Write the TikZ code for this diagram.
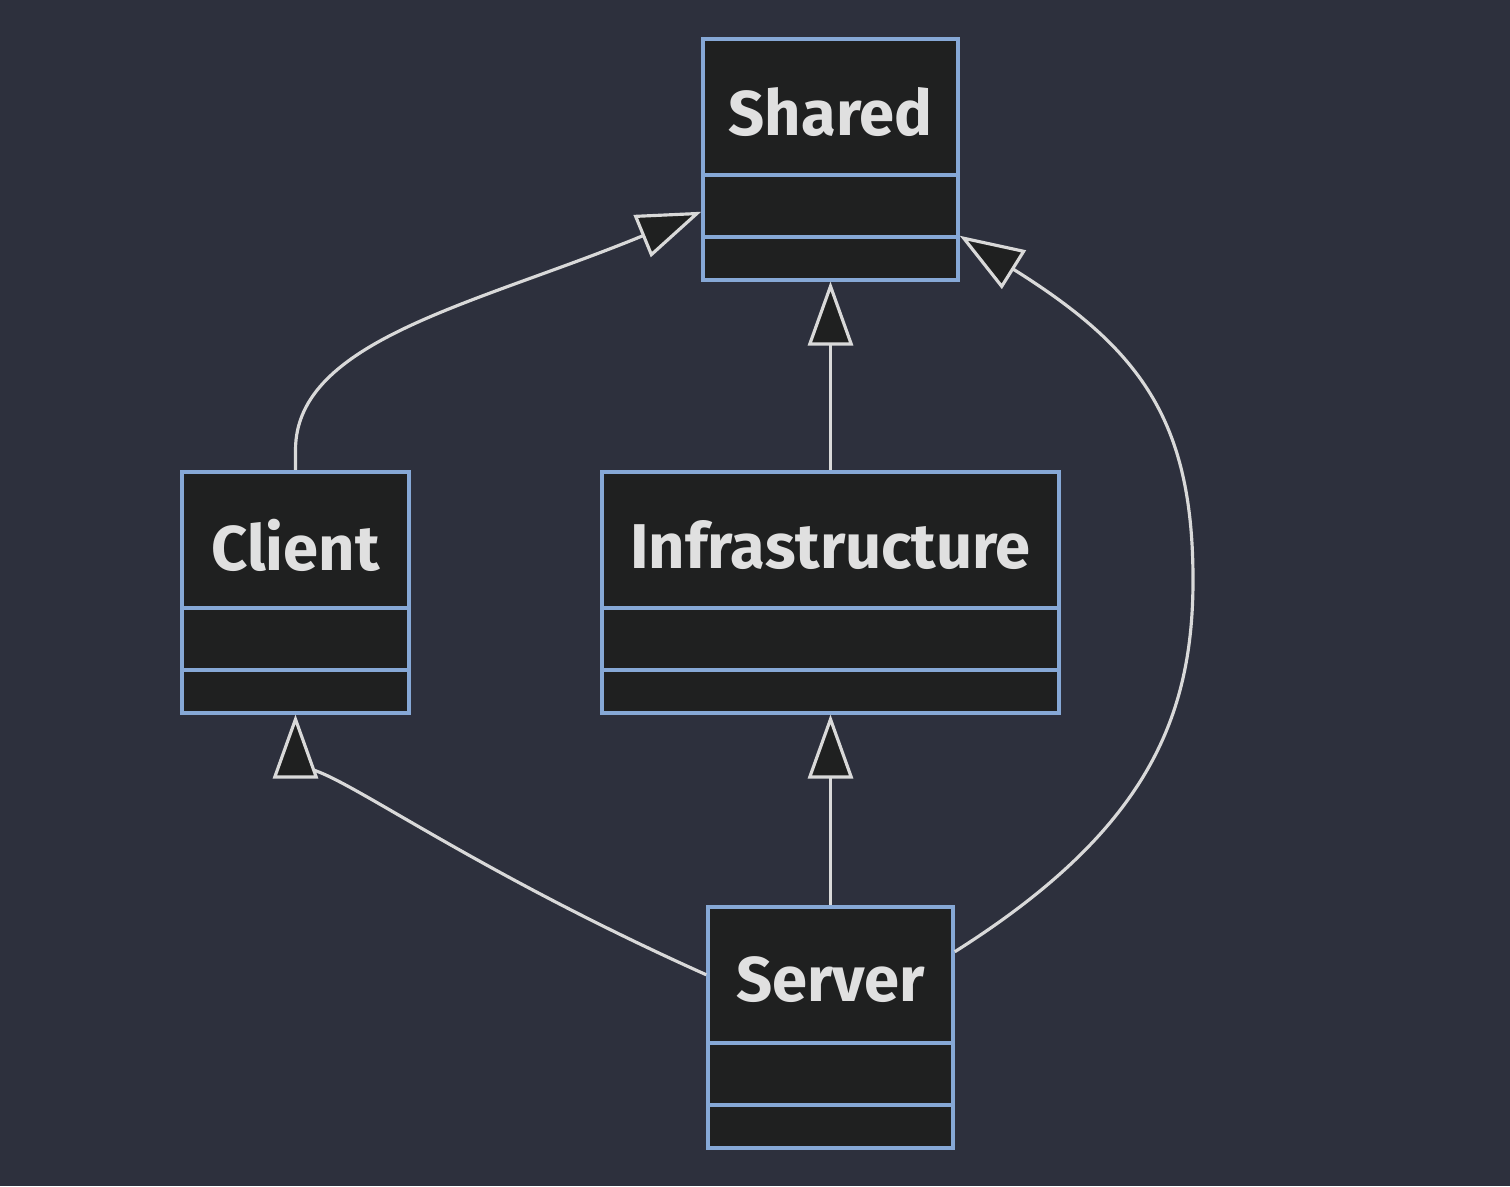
\documentclass[tikz,border=0pt]{standalone}
\usepackage{fontspec}
\setmainfont{Fira Sans}
\usetikzlibrary{arrows.meta}
\definecolor{bgcol}{HTML}{2D303D}
\definecolor{boxfill}{HTML}{1F2020}
\definecolor{boxborder}{HTML}{86A8D6}
\definecolor{textcol}{HTML}{E0E0E0}
\definecolor{linecol}{HTML}{D9D9D9}
\begin{document}
\begin{tikzpicture}[
    classbox/.style={draw=boxborder,fill=boxfill,line width=2pt,minimum height=4.82cm,anchor=north,inner sep=0pt},
    classname/.style={text=textcol,font=\fontsize{36}{44}\selectfont\bfseries},
    divider/.style={draw=boxborder,line width=2pt},
    inherit/.style={draw=linecol,line width=1.8pt,-{Triangle[length=1.28cm,width=0.9cm,fill=boxfill]}}
  ]
  \fill[bgcol] (0,0) rectangle (30.2,23.72);
  \useasboundingbox (0,0) rectangle (30.2,23.72);
  %% Blocks
  \node[classbox,minimum width=5.1cm] (shared) at (16.61,22.98) {};
  \node[classbox,minimum width=4.54cm] (client) at (5.91,14.32) {};
  \node[classbox,minimum width=9.14cm] (infra) at (16.61,14.32) {};
  \node[classbox,minimum width=4.9cm] (server) at (16.61,5.62) {};
  %% names
  \node[classname] (sharedname) at ([yshift=-1.5cm]shared.north) {Shared};
  \node[classname] (clientname) at ([yshift=-1.5cm]client.north) {Client};
  \node[classname] (infraname) at ([yshift=-1.5cm]infra.north) {Infrastructure};
  \node[classname] (servername) at ([yshift=-1.5cm]server.north) {Server};
  %% compartments
  \foreach \c in {shared,client,infra,server}{
    \draw[divider] ([yshift=-2.76cm]\c.north west) -- ([yshift=-2.76cm]\c.north east);
    \draw[divider] ([yshift=-4cm]\c.north west) -- ([yshift=-4cm]\c.north east);
  }
  %% Arrows
  \draw[inherit] (infra.north) -- (shared.south);
  \draw[inherit] (server.north) -- (infra.south);
  \draw[inherit] (client.north) -- ++(0,0.4) .. controls +(0,2.2) and +(-4.5,-1.85) .. ([yshift=-1.05cm]shared.west);
  \draw[inherit] ([yshift=1.05cm]server.west) .. controls +(-5.8,2.6) and +(0,-0.4) .. (client.south);
  \coordinate (bend) at (23.86,12.12);
  \draw[inherit] ([yshift=1.51cm]server.east) .. controls +(3.8,2.4) and +(0,-2.8) .. (bend)
    .. controls +(0,3.2) and +(3.6,-2.25) .. ([yshift=-1.53cm]shared.east);
\end{tikzpicture}
\end{document}
